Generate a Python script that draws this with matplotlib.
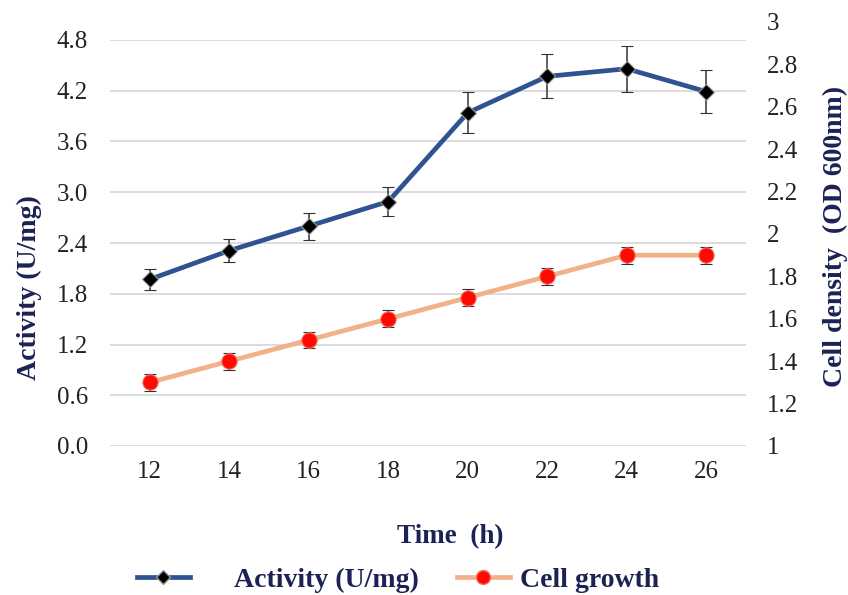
import matplotlib
matplotlib.use("Agg")
import matplotlib.pyplot as plt
from matplotlib.lines import Line2D

# Sampling times (h)
time_h = [12, 14, 16, 18, 20, 22, 24, 26]

# Enzyme activity (U/mg) with standard deviation
activity = [1.97, 2.31, 2.60, 2.89, 3.94, 4.37, 4.46, 4.19]
activity_err = [0.12, 0.14, 0.16, 0.17, 0.24, 0.26, 0.27, 0.25]

# Cell growth (OD 600nm) with standard deviation
cell_growth = [1.30, 1.40, 1.50, 1.60, 1.70, 1.80, 1.90, 1.90]
cell_err = [0.04, 0.04, 0.04, 0.04, 0.04, 0.04, 0.04, 0.04]

left_ticks = [0.0, 0.6, 1.2, 1.8, 2.4, 3.0, 3.6, 4.2, 4.8]
right_ticks = [1, 1.2, 1.4, 1.6, 1.8, 2, 2.2, 2.4, 2.6, 2.8, 3]
right_tick_labels = ["1", "1.2", "1.4", "1.6", "1.8", "2", "2.2", "2.4", "2.6", "2.8", "3"]

BLUE = "#2f5391"
ORANGE = "#f2b189"
RED = "#ff0a00"
NAVY = "#1c2255"
TICK_COLOR = "#222222"

plt.rcParams["font.family"] = ["Liberation Serif", "DejaVu Serif"]

W, H = 848, 595
fig = plt.figure(figsize=(W / 100, H / 100), dpi=100)

x0, x1 = 110, 746
y_bottom, y_top_left, y_top_right = 446, 40, 22

ax = fig.add_axes([x0 / W, 1 - y_bottom / H, (x1 - x0) / W, (y_bottom - y_top_left) / H])
ax2 = fig.add_axes([x0 / W, 1 - y_bottom / H, (x1 - x0) / W, (y_bottom - y_top_right) / H],
                   sharex=ax)
ax2.patch.set_visible(False)

# Left axis: activity
ax.set_xlim(11, 27)
ax.set_ylim(0, 4.8)
ax.set_yticks(left_ticks)
ax.set_yticklabels([f"{v:.1f}" for v in left_ticks])
ax.set_xticks(time_h)
ax.set_xticklabels([str(t) for t in time_h])
ax.grid(axis="y", color="#d9d9d9", linewidth=1.3)
ax.set_axisbelow(True)
for s in ax.spines.values():
    s.set_visible(False)
ax.tick_params(axis="both", length=0, labelsize=18, colors=TICK_COLOR)
ax.tick_params(axis="y", pad=16)
ax.tick_params(axis="x", pad=11)

# Right axis: cell density
ax2.set_ylim(1, 3)
ax2.set_yticks(right_ticks)
ax2.set_yticklabels(right_tick_labels)
for s in ax2.spines.values():
    s.set_visible(False)
ax2.yaxis.tick_right()
ax2.tick_params(axis="y", length=0, labelsize=18, colors=TICK_COLOR, pad=15)
ax2.tick_params(axis="x", bottom=False, labelbottom=False)

ax2.errorbar(time_h, cell_growth, yerr=cell_err, color=ORANGE, linewidth=3.4,
             marker="o", markersize=11, markerfacecolor=RED, markeredgecolor="#f07060",
             markeredgewidth=0.8, ecolor="#333333", elinewidth=1.1, capsize=4, capthick=1.1,
             zorder=3)
ax2.errorbar(time_h, activity, yerr=activity_err, color=BLUE, linewidth=3.4,
             marker="D", markersize=8.5, markerfacecolor="black", markeredgecolor="#9a9a9a",
             markeredgewidth=0.8, ecolor="#333333", elinewidth=1.1, capsize=4, capthick=1.1,
             zorder=4, transform=ax.transData)

# Axis titles
fig.text(29 / W, 1 - 288 / H, "Activity (U/mg)", rotation=90, ha="center", va="center",
         fontsize=20, fontweight="bold", color=NAVY)
fig.text(835 / W, 1 - 236 / H, "Cell density  (OD 600nm)", rotation=90, ha="center",
         va="center", fontsize=20, fontweight="bold", color=NAVY)
fig.text(450 / W, 1 - 537 / H, "Time  (h)", ha="center", va="center",
         fontsize=19.5, fontweight="bold", color=NAVY)

# Legend
h_act = Line2D([], [], color=BLUE, linewidth=3.4, marker="D", markersize=7.5,
               markerfacecolor="black", markeredgecolor="#9a9a9a")
h_cell = Line2D([], [], color=ORANGE, linewidth=3.4, marker="o", markersize=10,
                markerfacecolor=RED, markeredgecolor="#f07060")
leg_kw = dict(frameon=False, loc="center left", handlelength=1.9, borderpad=0,
              borderaxespad=0, prop={"size": 20, "weight": "bold"})
leg1 = fig.legend([h_act], ["Activity (U/mg)"], bbox_to_anchor=(137 / W, 1 - 580 / H),
                  handletextpad=1.6, **leg_kw)
for t in leg1.get_texts():
    t.set_color(NAVY)
leg2 = fig.legend([h_cell], ["Cell growth"], bbox_to_anchor=(457 / W, 1 - 580 / H),
                  handletextpad=0.35, **leg_kw)
for t in leg2.get_texts():
    t.set_color(NAVY)

fig.savefig("out.png", dpi=100)
